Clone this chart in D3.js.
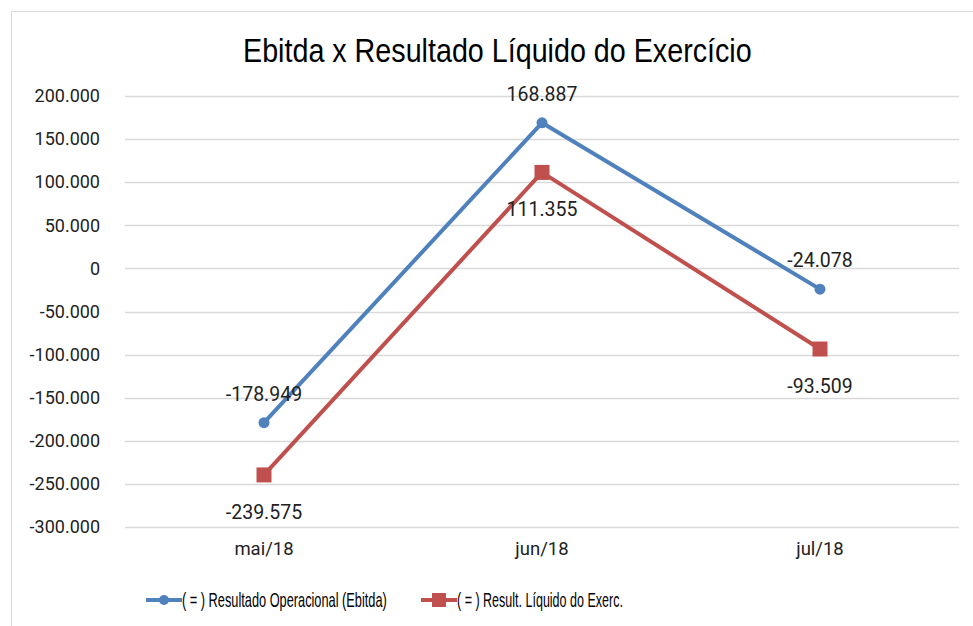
<!DOCTYPE html>
<html>
<head>
<meta charset="utf-8">
<script src="https://cdn.jsdelivr.net/npm/d3@7"></script>
<style>
  body { margin: 0; background: #fff; }
  svg { display: block; }
</style>
</head>
<body>
<div id="chart"></div>
<script>
// data
var months = ["mai/18", "jun/18", "jul/18"];
var ebitda = [-178949, 168887, -24078];
var resultado = [-239575, 111355, -93509];
var seriesNames = ["( = ) Resultado Operacional (Ebitda)", "( = ) Result. Líquido do Exerc."];
var yTicks = [-300000, -250000, -200000, -150000, -100000, -50000, 0, 50000, 100000, 150000, 200000];

var W = 973, H = 626;
var margin = { left: 125, right: 14, top: 96, bottom: 99 };
var width = W - margin.left - margin.right;
var height = H - margin.top - margin.bottom;

var narrow = "'Liberation Sans Narrow', 'Arial Narrow', 'Liberation Sans', sans-serif";
var numFont = "Roboto, sans-serif";

var fmt = function(v){
    var s = d3.format(",")(v).replace(/,/g, ".");
    return s.replace("−", "-");
};

// squeeze a text horizontally so it fills a given width (no narrow font here)
function squeeze(sel, x0, y0, target){
    var len = sel.node().getComputedTextLength();
    var k = target / len;
    sel.attr("x", 0).attr("y", 0)
        .attr("transform", "translate(" + x0 + "," + y0 + ") scale(" + k + ",1)");
}

var svg = d3.select("#chart").append("svg")
    .attr("width", W)
    .attr("height", H);

// chart area border
svg.append("rect")
    .attr("x", 11.5).attr("y", 11.5)
    .attr("width", W + 20).attr("height", H + 20)
    .attr("fill", "none")
    .attr("stroke", "#d9d9d9");

var title = svg.append("text")
    .attr("font-family", narrow)
    .attr("font-size", "33px")
    .attr("fill", "#000")
    .text("Ebitda x Resultado Líquido do Exercício");
squeeze(title, 243, 62, 509);

var g = svg.append("g")
    .attr("transform", "translate(" + margin.left + "," + margin.top + ")");

var x = d3.scaleBand().domain(months).range([0, width]);
var y = d3.scaleLinear().domain([-300000, 200000]).range([height, 0]);

// gridlines
g.selectAll("line.grid").data(yTicks).enter()
    .append("line")
    .attr("class", "grid")
    .attr("x1", 0).attr("x2", width)
    .attr("y1", function(d){ return Math.round(y(d)) + 0.5; })
    .attr("y2", function(d){ return Math.round(y(d)) + 0.5; })
    .attr("stroke", "#d9d9d9")
    .attr("stroke-width", 1.5);

var yAxis = g.append("g")
    .call(d3.axisLeft(y).tickValues(yTicks).tickFormat(fmt).tickSize(0).tickPadding(25));
yAxis.select(".domain").remove();
yAxis.selectAll("text")
    .attr("font-family", numFont)
    .attr("font-size", "18px")
    .attr("fill", "#222");

var xAxis = g.append("g")
    .attr("transform", "translate(0," + height + ")")
    .call(d3.axisBottom(x).tickSize(0).tickPadding(15));
xAxis.select(".domain").remove();
xAxis.selectAll("text")
    .attr("font-family", numFont)
    .attr("font-size", "18.5px")
    .attr("fill", "#222");

var series = [
    { name: seriesNames[0], values: ebitda, color: "#4f81bd", marker: "circle", labelPos: "above" },
    { name: seriesNames[1], values: resultado, color: "#c0504d", marker: "square", labelPos: "below" }
];

var line = d3.line()
    .x(function(d, i){ return x(months[i]) + x.bandwidth() / 2; })
    .y(function(d){ return y(d); });

series.forEach(function(s){
    g.append("path")
        .datum(s.values)
        .attr("fill", "none")
        .attr("stroke", s.color)
        .attr("stroke-width", 4)
        .attr("stroke-linejoin", "round")
        .attr("d", line);

    s.values.forEach(function(v, i){
        var cx = x(months[i]) + x.bandwidth() / 2, cy = y(v);
        if (s.marker === "circle") {
            g.append("circle").attr("cx", cx).attr("cy", cy).attr("r", 5.5).attr("fill", s.color);
        } else {
            g.append("rect").attr("x", cx - 7.5).attr("y", cy - 7.5)
                .attr("width", 15).attr("height", 15).attr("fill", s.color);
        }
        g.append("text")
            .attr("x", cx)
            .attr("y", s.labelPos === "above" ? cy - 22 : cy + 44)
            .attr("text-anchor", "middle")
            .attr("font-family", numFont)
            .attr("font-size", "19.5px")
            .attr("fill", "#222")
            .text(fmt(v));
    });
});

// legend
var legend = svg.append("g").attr("transform", "translate(0,600)");
var legX = [146, 421];
var legW = [205, 166];
series.forEach(function(s, i){
    var lg = legend.append("g").attr("transform", "translate(" + legX[i] + ",0)");
    lg.append("line").attr("x1", 0).attr("x2", 36).attr("y1", 0).attr("y2", 0)
        .attr("stroke", s.color).attr("stroke-width", 4);
    if (s.marker === "circle") {
        lg.append("circle").attr("cx", 18).attr("cy", 0).attr("r", 5).attr("fill", s.color);
    } else {
        lg.append("rect").attr("x", 11).attr("y", -7).attr("width", 14).attr("height", 14).attr("fill", s.color);
    }
    var t = lg.append("text")
        .attr("font-family", narrow)
        .attr("font-size", "20px")
        .attr("fill", "#000")
        .text(s.name);
    squeeze(t, 36, 7, legW[i]);
});
</script>
</body>
</html>
